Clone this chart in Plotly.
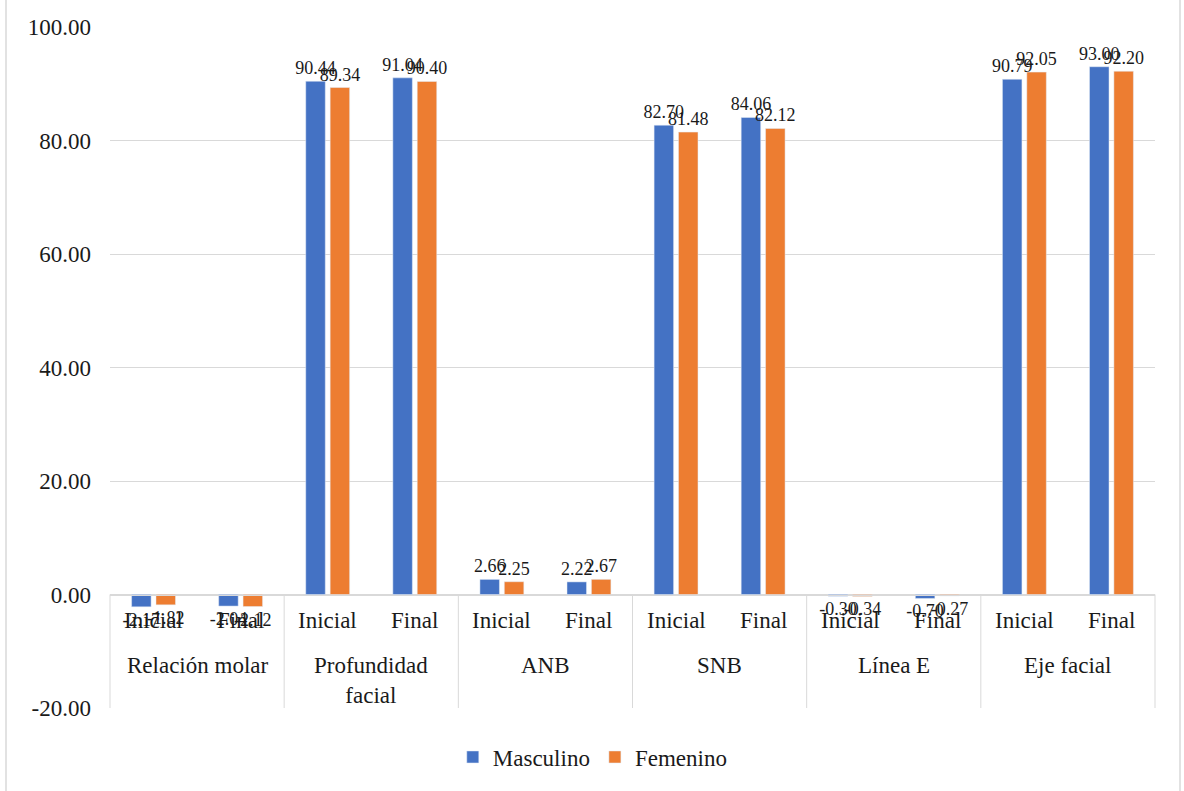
import plotly.graph_objects as go

groups = ["Relación molar", "Profundidad<br>facial", "ANB", "SNB", "Línea E", "Eje facial"]
moments = ["Inicial", "Final"]
masculino = [-2.17, -2.04, 90.44, 91.04, 2.66, 2.22, 82.70, 84.06, -0.30, -0.70, 90.79, 93.00]
femenino = [-1.82, -2.12, 89.34, 90.40, 2.25, 2.67, 81.48, 82.12, -0.34, -0.27, 92.05, 92.20]
y_ticks = [-20, 0, 20, 40, 60, 80, 100]
y_ticktext = ["%.2f" % v for v in y_ticks]

outer = [g for g in groups for _ in moments]
inner = [m for _ in groups for m in moments]

FONT = "Liberation Serif"
TXT = "#1a1a1a"
GRID = "#d9d9d9"
YMIN, YMAX = -20, 100
zero_frac = (0 - YMIN) / (YMAX - YMIN)

fig = go.Figure()
for name, vals, col in [("Masculino", masculino, "#4472C4"), ("Femenino", femenino, "#ED7D31")]:
    fig.add_trace(go.Bar(
        x=[outer, inner], y=vals, name=name, marker_color=col,
        text=["%.2f" % v for v in vals], texttemplate="%{text}",
        textposition="outside", constraintext="none",
        cliponaxis=False, textfont=dict(family=FONT, size=18, color=TXT),
    ))

fig.update_layout(
    width=1184, height=791,
    margin=dict(l=110, r=29, t=27, b=83),
    plot_bgcolor="white", paper_bgcolor="white",
    barmode="group", bargap=0.44, bargroupgap=0.2,
    font=dict(family=FONT, size=23, color=TXT),
    legend=dict(orientation="h", x=0.462, xanchor="center", y=-0.072, yanchor="middle",
                font=dict(family=FONT, size=23, color=TXT), traceorder="normal"),
    showlegend=True,
)
fig.update_yaxes(range=[YMIN, YMAX], tickvals=y_ticks, ticktext=y_ticktext,
                 showgrid=True, gridcolor=GRID, gridwidth=1, zeroline=False,
                 showline=False, ticklabelstandoff=18,
                 tickfont=dict(family=FONT, size=23, color=TXT))
fig.update_xaxes(type="multicategory", anchor="free", position=zero_frac,
                 showline=True, linecolor=GRID, linewidth=1,
                 showticklabels=False, showgrid=False)

# category labels and dividers of the axis (Excel style, crossing at zero)
n_groups = len(groups)
n_cat = n_groups * len(moments)
for k in range(n_groups + 1):
    fig.add_shape(type="line", xref="paper", yref="paper", x0=k / n_groups, x1=k / n_groups,
                  y0=0, y1=zero_frac, line=dict(color=GRID, width=1))
for i, lab in enumerate(inner):
    fig.add_annotation(xref="paper", yref="paper", x=(i + 0.5) / n_cat, y=0.1278,
                       text=lab, showarrow=False, xanchor="center", yanchor="middle",
                       font=dict(family=FONT, size=23, color=TXT))
for g, lab in enumerate(groups):
    fig.add_annotation(xref="paper", yref="paper", x=(g + 0.5) / n_groups, y=0.083,
                       text=lab, showarrow=False, xanchor="center", yanchor="top",
                       font=dict(family=FONT, size=23, color=TXT))

for xp in [(6 - 110) / 1045, (1180 - 110) / 1045]:
    fig.add_shape(type="line", xref="paper", yref="paper", x0=xp, x1=xp, y0=-0.2, y1=1.1,
                  line=dict(color=GRID, width=1.5))

fig.write_html("out.html")
